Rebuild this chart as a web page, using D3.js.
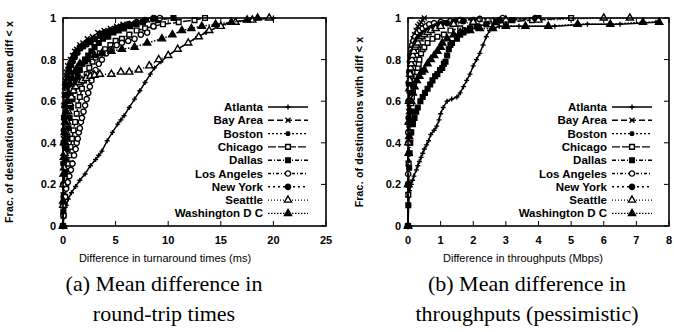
<!DOCTYPE html>
<html>
<head>
<meta charset="utf-8">
<script src="https://cdn.jsdelivr.net/npm/d3@7"></script>
<style>
  body { margin: 0; background: #fff; }
  svg { display: block; }
</style>
</head>
<body>
<svg id="fig" width="674" height="332"></svg>
<script>
// legend names, same order in both panels
var cities = ["Atlanta", "Bay Area", "Boston", "Chicago", "Dallas",
  "Los Angeles", "New York", "Seattle", "Washington D C"];

// tick values / labels
var yTicks = [0, 0.2, 0.4, 0.6, 0.8, 1];
var yTickLabels = ["0", "0.2", "0.4", "0.6", "0.8", "1"];
var rttTicks = [0, 5, 10, 15, 20, 25];
var tputTicks = [0, 1, 2, 3, 4, 5, 6, 7, 8];

// (a) mean difference in RTT (ms) -> fraction of destinations
var rttAtlanta = [[0,0],[0.1,0.05],[0.3,0.1],[0.5,0.13],[0.8,0.16],[1.2,0.19],[1.6,0.22],[2.1,0.25],[2.6,0.29],[3.1,0.32],[3.4,0.34],[3.7,0.36],[4.2,0.41],[4.7,0.45],[5.2,0.49],[5.5,0.51],[5.8,0.53],[6.3,0.57],[6.8,0.61],[7.3,0.65],[7.8,0.69],[8.3,0.73],[8.7,0.76],[9.3,0.79],[10,0.82],[10.9,0.85],[11.9,0.88],[12.8,0.91],[13.6,0.93],[14.8,0.96],[16,0.98],[17.5,0.99],[20,1]];
var rttBayArea = [[0,0],[0.01,0.15],[0.02,0.3],[0.03,0.42],[0.05,0.52],[0.07,0.58],[0.1,0.63],[0.14,0.67],[0.2,0.7],[0.3,0.74],[0.45,0.77],[0.7,0.8],[0.9,0.82],[1.1,0.84],[1.3,0.85],[1.6,0.87],[1.9,0.88],[2.3,0.9],[2.8,0.91],[3.3,0.93],[3.9,0.94],[4.5,0.95],[5.1,0.96],[5.7,0.97],[6.5,0.975],[7.2,0.98],[8,0.99],[9,1]];
var rttBoston = [[0,0],[0.02,0.1],[0.04,0.2],[0.07,0.3],[0.1,0.38],[0.14,0.45],[0.2,0.52],[0.27,0.58],[0.35,0.63],[0.45,0.67],[0.57,0.71],[0.7,0.74],[0.85,0.77],[1,0.79],[1.2,0.81],[1.45,0.83],[1.7,0.85],[2,0.86],[2.3,0.87],[2.7,0.88],[3.1,0.9],[3.5,0.91],[3.9,0.92],[4.4,0.93],[4.9,0.94],[5.4,0.95],[6,0.96],[6.8,0.97],[7.6,0.98],[8.5,0.99],[9.3,1]];
var rttChicago = [[0,0],[0.05,0.05],[0.12,0.1],[0.2,0.14],[0.3,0.2],[0.4,0.25],[0.5,0.3],[0.6,0.34],[0.72,0.38],[0.85,0.42],[1,0.46],[1.15,0.5],[1.3,0.54],[1.45,0.58],[1.6,0.62],[1.8,0.66],[2,0.7],[2.25,0.73],[2.5,0.76],[2.8,0.79],[3.1,0.81],[3.5,0.83],[4,0.85],[4.5,0.87],[5,0.89],[5.6,0.9],[6.3,0.92],[7,0.94],[7.8,0.95],[8.6,0.96],[9.5,0.97],[11,0.98],[12.5,0.99],[13.5,1]];
var rttDallas = [[0,0],[0.03,0.07],[0.07,0.14],[0.12,0.2],[0.18,0.26],[0.25,0.32],[0.33,0.37],[0.42,0.42],[0.52,0.47],[0.63,0.52],[0.75,0.57],[0.9,0.61],[1.05,0.65],[1.2,0.69],[1.4,0.72],[1.6,0.75],[1.85,0.78],[2.1,0.8],[2.4,0.82],[2.7,0.84],[3,0.86],[3.4,0.88],[3.8,0.9],[4.3,0.91],[4.8,0.93],[5.3,0.94],[5.8,0.95],[6.4,0.96],[7,0.97],[7.6,0.98],[9,0.99],[10.5,1]];
var rttLosAngeles = [[0,0],[0.05,0.05],[0.1,0.1],[0.2,0.14],[0.3,0.18],[0.45,0.21],[0.6,0.24],[0.75,0.27],[0.9,0.3],[1.05,0.34],[1.2,0.37],[1.3,0.4],[1.4,0.42],[1.5,0.45],[1.6,0.47],[1.7,0.5],[1.8,0.52],[1.95,0.55],[2.1,0.58],[2.25,0.61],[2.4,0.64],[2.55,0.67],[2.7,0.7],[2.9,0.73],[3.1,0.75],[3.4,0.78],[3.7,0.8],[4.1,0.83],[4.6,0.85],[5.1,0.87],[5.6,0.88],[6.2,0.89],[6.8,0.9],[7.4,0.92],[8,0.93],[8.6,0.96],[9.2,1]];
var rttNewYork = [[0,0],[0.01,0.1],[0.02,0.2],[0.04,0.3],[0.06,0.4],[0.08,0.46],[0.12,0.52],[0.17,0.58],[0.24,0.63],[0.32,0.68],[0.42,0.72],[0.55,0.75],[0.7,0.78],[0.85,0.8],[1.05,0.82],[1.3,0.84],[1.6,0.86],[1.9,0.87],[2.2,0.88],[2.6,0.89],[3,0.9],[3.5,0.92],[4,0.93],[4.5,0.94],[5,0.95],[5.6,0.96],[6.2,0.97],[7,0.98],[7.8,0.99],[8.6,1]];
var rttSeattle = [[0,0],[0.02,0.1],[0.05,0.2],[0.1,0.28],[0.15,0.35],[0.22,0.4],[0.3,0.45],[0.4,0.5],[0.5,0.55],[0.65,0.59],[0.8,0.62],[1,0.65],[1.2,0.67],[1.5,0.69],[1.8,0.7],[2.2,0.71],[2.6,0.72],[3,0.725],[3.5,0.73],[4.6,0.73],[5.5,0.74],[6.3,0.74],[7.2,0.75],[8.2,0.77],[9.1,0.8],[10,0.82],[10.9,0.85],[11.9,0.88],[12.9,0.91],[13.9,0.94],[15,0.96],[16.4,0.98],[18,0.99],[19.6,1]];
var rttWashington = [[0,0],[0.02,0.12],[0.05,0.25],[0.08,0.33],[0.1,0.4],[0.15,0.45],[0.2,0.5],[0.3,0.55],[0.4,0.6],[0.55,0.64],[0.7,0.68],[0.9,0.71],[1.1,0.74],[1.35,0.76],[1.6,0.78],[2,0.79],[2.3,0.8],[3,0.82],[3.7,0.83],[4.6,0.84],[5.6,0.85],[6.8,0.86],[8,0.88],[9.4,0.9],[10.4,0.92],[11.3,0.94],[12.2,0.95],[13.2,0.96],[14.5,0.97],[16,0.98],[17.5,0.99],[18.5,1]];

// (b) difference in throughput (Mbps)
var tputAtlanta = [[0,0],[0.02,0.1],[0.05,0.17],[0.1,0.2],[0.14,0.22],[0.18,0.24],[0.26,0.27],[0.3,0.29],[0.35,0.31],[0.4,0.33],[0.45,0.35],[0.5,0.37],[0.57,0.39],[0.63,0.41],[0.7,0.44],[0.8,0.46],[0.88,0.48],[0.95,0.51],[1,0.54],[1.08,0.57],[1.2,0.6],[1.34,0.61],[1.5,0.62],[1.6,0.64],[1.7,0.67],[1.8,0.7],[1.9,0.73],[2,0.77],[2.1,0.8],[2.2,0.83],[2.3,0.87],[2.4,0.91],[2.5,0.94],[2.6,0.95],[2.8,0.96],[3.4,0.96],[4.5,0.96],[5.5,0.97],[6.5,0.97],[7.6,0.98]];
var tputBayArea = [[0,0],[0.005,0.15],[0.01,0.3],[0.015,0.45],[0.02,0.55],[0.03,0.65],[0.04,0.72],[0.06,0.78],[0.08,0.82],[0.1,0.85],[0.13,0.88],[0.16,0.9],[0.2,0.92],[0.25,0.94],[0.3,0.96],[0.35,0.97],[0.4,0.98],[0.45,0.99],[0.5,1]];
var tputBoston = [[0,0],[0.005,0.2],[0.01,0.35],[0.02,0.48],[0.03,0.58],[0.045,0.65],[0.06,0.7],[0.08,0.74],[0.1,0.77],[0.13,0.8],[0.16,0.83],[0.2,0.85],[0.24,0.87],[0.3,0.89],[0.37,0.91],[0.45,0.92],[0.55,0.94],[0.65,0.95],[0.8,0.96],[0.95,0.97],[1.1,0.98],[1.5,0.99],[2.2,1]];
var tputChicago = [[0,0],[0.01,0.15],[0.02,0.3],[0.035,0.4],[0.05,0.45],[0.065,0.5],[0.08,0.55],[0.1,0.59],[0.12,0.62],[0.15,0.65],[0.18,0.68],[0.21,0.7],[0.25,0.72],[0.28,0.74],[0.3,0.76],[0.33,0.78],[0.35,0.8],[0.4,0.83],[0.45,0.85],[0.5,0.86],[0.6,0.88],[0.75,0.9],[0.9,0.91],[1.1,0.92],[1.3,0.94],[1.6,0.95],[2,0.96],[2.5,0.97],[3,0.98],[3.8,0.99],[5,1]];
var tputDallas = [[0,0],[0.01,0.1],[0.02,0.2],[0.035,0.28],[0.05,0.35],[0.07,0.4],[0.1,0.45],[0.15,0.49],[0.2,0.52],[0.25,0.55],[0.3,0.57],[0.38,0.6],[0.45,0.62],[0.52,0.64],[0.6,0.66],[0.68,0.68],[0.75,0.7],[0.83,0.72],[0.9,0.73],[0.98,0.75],[1.05,0.76],[1.1,0.78],[1.15,0.79],[1.2,0.82],[1.25,0.85],[1.3,0.87],[1.35,0.88],[1.5,0.9],[1.6,0.92],[1.7,0.93],[1.8,0.94],[1.9,0.95],[2.1,0.96],[2.4,0.97],[2.7,0.98],[3.2,0.99],[4,1]];
var tputLosAngeles = [[0,0],[0.005,0.25],[0.01,0.45],[0.02,0.6],[0.03,0.68],[0.04,0.74],[0.06,0.79],[0.08,0.82],[0.1,0.85],[0.13,0.87],[0.17,0.89],[0.22,0.91],[0.3,0.93],[0.37,0.94],[0.45,0.95],[0.55,0.96],[0.65,0.97],[0.8,0.975],[1,0.98],[1.3,0.985],[1.6,0.99],[2.2,0.995],[2.9,1]];
var tputNewYork = [[0,0],[0.005,0.2],[0.01,0.4],[0.02,0.52],[0.03,0.6],[0.045,0.68],[0.06,0.74],[0.08,0.78],[0.1,0.8],[0.13,0.82],[0.16,0.84],[0.2,0.86],[0.24,0.88],[0.3,0.9],[0.35,0.91],[0.42,0.92],[0.5,0.93],[0.6,0.94],[0.7,0.95],[0.85,0.96],[1,0.97],[1.2,0.975],[1.4,0.98],[1.7,0.985],[2,0.99],[2.8,0.99],[3.9,1]];
var tputSeattle = [[0,0],[0.005,0.2],[0.01,0.4],[0.02,0.5],[0.03,0.6],[0.04,0.66],[0.05,0.7],[0.065,0.73],[0.08,0.76],[0.1,0.78],[0.12,0.8],[0.15,0.82],[0.18,0.84],[0.22,0.86],[0.25,0.87],[0.3,0.88],[0.35,0.9],[0.42,0.91],[0.5,0.92],[0.6,0.93],[0.7,0.94],[0.85,0.95],[1,0.96],[1.4,0.97],[2,0.98],[3,0.99],[4,0.99],[6,1],[6.8,1]];
var tputWashington = [[0,0],[0.01,0.2],[0.02,0.35],[0.035,0.43],[0.05,0.5],[0.07,0.55],[0.1,0.6],[0.15,0.64],[0.2,0.67],[0.27,0.7],[0.35,0.72],[0.42,0.74],[0.5,0.75],[0.6,0.78],[0.7,0.8],[0.8,0.82],[0.9,0.84],[1,0.86],[1.05,0.88],[1.2,0.9],[1.4,0.92],[1.6,0.93],[1.9,0.94],[2.2,0.95],[2.6,0.95],[3,0.96],[3.6,0.96],[4.3,0.96],[5.2,0.97],[6.2,0.97],[7.2,0.98],[7.7,0.98]];

var rttSeries = [rttAtlanta, rttBayArea, rttBoston, rttChicago, rttDallas,
  rttLosAngeles, rttNewYork, rttSeattle, rttWashington];
var tputSeries = [tputAtlanta, tputBayArea, tputBoston, tputChicago, tputDallas,
  tputLosAngeles, tputNewYork, tputSeattle, tputWashington];

// gnuplot-ish line styles, one per city
var dashes = [null, "6,3", "2,2", "8,2", "4,2,1,2", "3,2,1,2", "2,3", "1,2", "1.5,1.5"];
var markers = ["plus", "cross", "star", "square", "squareFill", "circle", "circleFill", "triangle", "triangleFill"];

var svg = d3.select("#fig");

function drawMarker(g, type, cx, cy) {
  var r = 2.5;
  var p;
  if (type == "plus") {
    p = "M" + (cx - r) + "," + cy + "H" + (cx + r) + "M" + cx + "," + (cy - r) + "V" + (cy + r);
    g.append("path").attr("d", p).attr("stroke", "#000").attr("stroke-width", 1.4).attr("fill", "none");
  } else if (type == "cross") {
    p = "M" + (cx - r) + "," + (cy - r) + "L" + (cx + r) + "," + (cy + r) + "M" + (cx - r) + "," + (cy + r) + "L" + (cx + r) + "," + (cy - r);
    g.append("path").attr("d", p).attr("stroke", "#000").attr("stroke-width", 1.4).attr("fill", "none");
  } else if (type == "star") {
    p = "M" + (cx - r) + "," + cy + "H" + (cx + r) + "M" + cx + "," + (cy - r) + "V" + (cy + r) +
      "M" + (cx - r * 0.75) + "," + (cy - r * 0.75) + "L" + (cx + r * 0.75) + "," + (cy + r * 0.75) +
      "M" + (cx - r * 0.75) + "," + (cy + r * 0.75) + "L" + (cx + r * 0.75) + "," + (cy - r * 0.75);
    g.append("path").attr("d", p).attr("stroke", "#000").attr("stroke-width", 1.4).attr("fill", "none");
  } else {
    var sym = d3.symbolSquare;
    if (type.indexOf("circle") == 0) sym = d3.symbolCircle;
    if (type.indexOf("triangle") == 0) sym = d3.symbolTriangle;
    var filled = type.indexOf("Fill") > 0;
    g.append("path")
      .attr("d", d3.symbol().type(sym).size(22)())
      .attr("transform", "translate(" + cx + "," + cy + ")")
      .attr("fill", filled ? "#000" : "#fff")
      .attr("stroke", "#000")
      .attr("stroke-width", 1.4);
  }
}

function drawPanel(o) {
  var x = d3.scaleLinear().domain(o.xDomain).range([o.left, o.right]);
  var y = d3.scaleLinear().domain([0, 1]).range([o.bottom, o.top]);
  var g = svg.append("g");

  // inward ticks on all four sides (gnuplot mirror style)
  var tl = 5;
  o.xTicks.forEach(function (t) {
    g.append("line").attr("x1", x(t)).attr("x2", x(t)).attr("y1", o.bottom).attr("y2", o.bottom - tl).attr("stroke", "#000");
    g.append("line").attr("x1", x(t)).attr("x2", x(t)).attr("y1", o.top).attr("y2", o.top + tl).attr("stroke", "#000");
    g.append("text").attr("x", x(t)).attr("y", o.bottom + 18)
      .attr("text-anchor", "middle").attr("class", "tick").text(t);
  });
  yTicks.forEach(function (t, i) {
    g.append("line").attr("x1", o.left).attr("x2", o.left + tl).attr("y1", y(t)).attr("y2", y(t)).attr("stroke", "#000");
    g.append("line").attr("x1", o.right).attr("x2", o.right - tl).attr("y1", y(t)).attr("y2", y(t)).attr("stroke", "#000");
    g.append("text").attr("x", o.left - 7).attr("y", y(t) + 4)
      .attr("text-anchor", "end").attr("class", "tick").text(yTickLabels[i]);
  });

  // the curves
  var line = d3.line().x(function (d) { return x(d[0]); }).y(function (d) { return y(d[1]); });
  o.series.forEach(function (s, i) {
    g.append("path").datum(s).attr("d", line)
      .attr("fill", "none").attr("stroke", "#000").attr("stroke-width", 1.5)
      .attr("stroke-dasharray", dashes[i]);
    s.forEach(function (d) { drawMarker(g, markers[i], x(d[0]), y(d[1])); });
  });

  // frame
  g.append("rect").attr("x", o.left).attr("y", o.top)
    .attr("width", o.right - o.left).attr("height", o.bottom - o.top)
    .attr("fill", "none").attr("stroke", "#000").attr("stroke-width", 1.6);

  // legend
  cities.forEach(function (c, i) {
    var ly = o.legendTop + i * 13.3;
    g.append("text").attr("x", o.legendX).attr("y", ly + 4)
      .attr("text-anchor", "end").attr("class", "leg").text(c);
    g.append("line").attr("x1", o.legendX + 5).attr("x2", o.legendX + 45)
      .attr("y1", ly).attr("y2", ly).attr("stroke", "#000").attr("stroke-width", 1.4)
      .attr("stroke-dasharray", dashes[i]);
    drawMarker(g, markers[i], o.legendX + 25, ly);
  });

  // axis labels
  g.append("text").attr("transform", "translate(" + o.ylabelX + "," + ((o.top + o.bottom) / 2) + ") rotate(-90)")
    .attr("text-anchor", "middle").attr("class", "ylab").text(o.ylabel);
  g.append("text").attr("x", o.xlabelX).attr("y", 262)
    .attr("text-anchor", "middle").attr("class", "xlab").text(o.xlabel);

  // caption below
  o.caption.forEach(function (c, i) {
    g.append("text").attr("x", o.captionX).attr("y", 291 + i * 30)
      .attr("text-anchor", "middle").attr("class", "cap").text(c);
  });
}

svg.append("style").text(
  ".tick{font-family:'Liberation Sans';font-weight:bold;font-size:11px;}" +
  ".leg{font-family:'Liberation Sans';font-weight:bold;font-size:11.5px;}" +
  ".ylab{font-family:'Liberation Sans';font-weight:bold;font-size:10.5px;letter-spacing:0.2px;}" +
  ".xlab{font-family:'Liberation Sans';font-size:11px;}" +
  ".cap{font-family:'Liberation Serif';font-size:22px;}"
);

drawPanel({
  left: 63, right: 326, top: 18, bottom: 226,
  xDomain: [0, 25], xTicks: rttTicks, series: rttSeries,
  legendX: 263, legendTop: 107,
  ylabel: "Frac. of destinations with mean diff < x", ylabelX: 13,
  xlabel: "Difference in turnaround times (ms)", xlabelX: 165,
  caption: ["(a) Mean difference in", "round-trip times"], captionX: 164
});

drawPanel({
  left: 408, right: 669, top: 18, bottom: 226,
  xDomain: [0, 8], xTicks: tputTicks, series: tputSeries,
  legendX: 607, legendTop: 107,
  ylabel: "Frac. of destinations with diff < x", ylabelX: 363,
  xlabel: "Difference in throughputs (Mbps)", xlabelX: 523,
  caption: ["(b) Mean difference in", "throughputs (pessimistic)"], captionX: 527
});
</script>
</body>
</html>
